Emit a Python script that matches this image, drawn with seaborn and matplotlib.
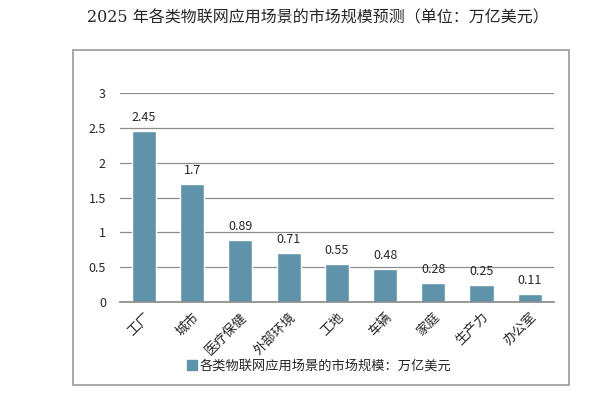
import numpy as np
import pandas as pd
import matplotlib.pyplot as plt
import seaborn as sns
from matplotlib.patches import Rectangle, Patch

# data
categories = ["工厂", "城市", "医疗保健", "外部环境", "工地", "车辆", "家庭", "生产力", "办公室"]
values = [2.45, 1.7, 0.89, 0.71, 0.55, 0.48, 0.28, 0.25, 0.11]
value_labels = ["2.45", "1.7", "0.89", "0.71", "0.55", "0.48", "0.28", "0.25", "0.11"]
y_ticks = [0, 0.5, 1, 1.5, 2, 2.5, 3]
y_tick_labels = ["0", "0.5", "1", "1.5", "2", "2.5", "3"]
series_name = "各类物联网应用场景的市场规模：万亿美元"
title = "2025 年各类物联网应用场景的市场规模预测（单位：万亿美元）"

sns.set_theme(style="white")
plt.rcParams["font.family"] = ["Noto Sans CJK SC", "DejaVu Sans"]

bar_color = "#5E93AA"
grid_color = "#8C8C8C"

df = pd.DataFrame({"cat": categories, "val": values})

fig = plt.figure(figsize=(6.08, 3.98), dpi=100)
fig.patch.set_facecolor("white")

# outer chart frame
fig.patches.append(Rectangle((0.120, 0.033), 0.816, 0.841, transform=fig.transFigure,
                             fill=False, edgecolor="#999999", linewidth=1.2))

ax = fig.add_axes([0.197, 0.241, 0.714, 0.525])
sns.barplot(data=df, x="cat", y="val", color=bar_color, width=0.5, saturation=1, ax=ax)

ax.set_ylim(0, 3)
ax.set_yticks(y_ticks)
ax.set_yticklabels(y_tick_labels, fontsize=9)
ax.yaxis.grid(True, color=grid_color, linewidth=0.9)
ax.set_axisbelow(True)
for s in ["left", "right", "top"]:
    ax.spines[s].set_visible(False)
ax.spines["bottom"].set_color(grid_color)
ax.tick_params(axis="both", length=0, pad=10)
ax.set_xlabel("")
ax.set_ylabel("")
ax.set_xticks(range(len(categories)))
ax.set_xticklabels(categories, rotation=45, ha="right", rotation_mode="anchor", fontsize=9.5)
ax.tick_params(axis="x", pad=6)

for i, (v, lab) in enumerate(zip(values, value_labels)):
    ax.text(i, v + 0.1, lab, ha="center", va="bottom", fontsize=9)

fig.text(0.522, 0.955, title, ha="center", va="center", fontsize=11.5,
         family=["DejaVu Serif", "Noto Sans CJK SC"])

fig.legend(handles=[Patch(color=bar_color, label=series_name)],
           loc="center", bbox_to_anchor=(0.525, 0.08), frameon=False,
           fontsize=9.5, handlelength=0.7, handleheight=0.7, handletextpad=0.2)

fig.savefig("out.png", dpi=100)
